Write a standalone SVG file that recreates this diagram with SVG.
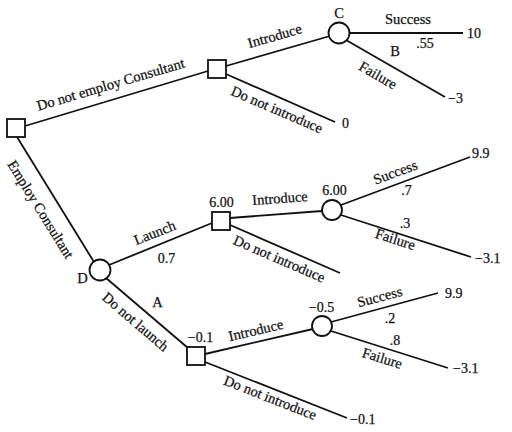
<svg xmlns="http://www.w3.org/2000/svg" width="512" height="432" viewBox="0 0 512 432">
<style>
.ln{stroke:#111;stroke-width:1.8;fill:none}
.nd{stroke:#111;stroke-width:1.8;fill:#fff}
text{font-family:"Liberation Serif","Times New Roman",serif;font-size:14.5px;fill:#111;stroke:#111;stroke-width:0.25}
.num{font-size:14px}
.m{text-anchor:middle}
</style>
<rect width="512" height="432" fill="#fff"/>
<g id="connectors">
<line class="ln" x1="25" y1="126" x2="208" y2="71"/>
<line class="ln" x1="17" y1="137" x2="94" y2="262"/>
<line class="ln" x1="226" y1="66" x2="330" y2="36"/>
<line class="ln" x1="226" y1="74" x2="335" y2="122"/>
<line class="ln" x1="349" y1="33" x2="463" y2="33"/>
<line class="ln" x1="346" y1="40" x2="445" y2="97"/>
<line class="ln" x1="109" y1="265" x2="212" y2="223"/>
<line class="ln" x1="106" y1="278" x2="188" y2="348"/>
<line class="ln" x1="230" y1="218" x2="322" y2="211"/>
<line class="ln" x1="230" y1="225" x2="340" y2="273"/>
<line class="ln" x1="341" y1="205" x2="470" y2="157"/>
<line class="ln" x1="341" y1="215" x2="471" y2="257"/>
<line class="ln" x1="205" y1="354" x2="313" y2="329"/>
<line class="ln" x1="205" y1="362" x2="347" y2="418"/>
<line class="ln" x1="331" y1="322" x2="438" y2="293"/>
<line class="ln" x1="331" y1="331" x2="448" y2="368"/>
<text class="m" transform="translate(112,89) rotate(-16.5)">Do not employ Consultant</text>
<text class="m" transform="translate(36.6,212) rotate(58.2)">Employ Consultant</text>
<text class="m" transform="translate(276,40.5) rotate(-16)">Introduce</text>
<text class="m" transform="translate(275,114) rotate(23.3)">Do not introduce</text>
<text class="m" x="408" y="24">Success</text>
<text class="m" transform="translate(375.5,79.5) rotate(30)">Failure</text>
<text class="m" transform="translate(156.5,237.2) rotate(-21.7)">Launch</text>
<text class="m" transform="translate(132.4,325.5) rotate(40.5)">Do not launch</text>
<text class="m" transform="translate(280.3,203) rotate(-4.3)">Introduce</text>
<text class="m" transform="translate(277.4,263.2) rotate(23.4)">Do not introduce</text>
<text class="m" transform="translate(396.9,176.7) rotate(-20.4)">Success</text>
<text class="m" transform="translate(393.8,243.8) rotate(18)">Failure</text>
<text class="m" transform="translate(256.9,334.9) rotate(-13)">Introduce</text>
<text class="m" transform="translate(268.5,402.2) rotate(21.4)">Do not introduce</text>
<text class="m" transform="translate(381,301.4) rotate(-15)">Success</text>
<text class="m" transform="translate(380.8,362.8) rotate(17.5)">Failure</text>
<text class="m num" x="425" y="48">.55</text>
<text class="m num" x="166.5" y="263">0.7</text>
<text class="m num" x="406.5" y="195">.7</text>
<text class="m num" x="405" y="228">.3</text>
<text class="m num" x="390" y="323">.2</text>
<text class="m num" x="395" y="345">.8</text>
<text class="num" x="467" y="38">10</text>
<text class="num" x="448" y="103">−3</text>
<text class="num" x="342" y="128">0</text>
<text class="num" x="472" y="158">9.9</text>
<text class="num" x="475" y="263">−3.1</text>
<text class="num" x="445" y="298">9.9</text>
<text class="num" x="453" y="373">−3.1</text>
<text class="num" x="350" y="424">−0.1</text>
</g>
<g id="root"><rect class="nd" x="7" y="119" width="18" height="18"/></g>
<g id="sq2"><rect class="nd" x="208" y="60" width="18" height="18"/></g>
<g id="nodeC"><circle class="nd" cx="339" cy="33" r="10.5"/><text class="m" x="339" y="18">C</text><text class="m" x="395" y="56">B</text></g>
<g id="nodeD"><circle class="nd" cx="100" cy="270" r="10.5"/><text class="m" x="82.5" y="283">D</text><text class="m" x="157.5" y="307">A</text></g>
<g id="sq3"><rect class="nd" x="212" y="212" width="18" height="18"/><text class="m num" x="221.5" y="207">6.00</text></g>
<g id="c2"><circle class="nd" cx="332" cy="210" r="10"/><text class="m num" x="334.5" y="195">6.00</text></g>
<g id="sq4"><rect class="nd" x="187" y="347" width="18" height="18"/><text class="m num" x="200.5" y="342">−0.1</text></g>
<g id="c3"><circle class="nd" cx="322" cy="326" r="10"/><text class="m num" x="321.5" y="312">−0.5</text></g>
</svg>
